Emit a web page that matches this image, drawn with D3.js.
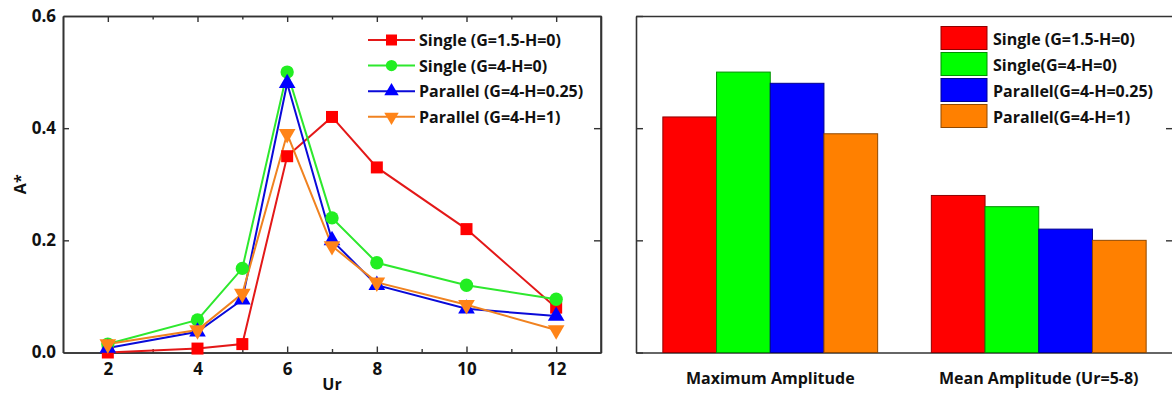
<!DOCTYPE html>
<html>
<head>
<meta charset="utf-8">
<script src="https://cdn.jsdelivr.net/npm/d3@7"></script>
<style>
  html, body { margin: 0; padding: 0; background: #fff; }
  svg { display: block; }
  text { font-family: "Open Sans", "Noto Sans", sans-serif; font-weight: bold; fill: #111; }
</style>
</head>
<body>
<svg id="chart" width="1172" height="394"></svg>
<script>
// ---------- data ----------
const ur = [2, 4, 5, 6, 7, 8, 10, 12];
const seriesNames = ["Single (G=1.5-H=0)", "Single (G=4-H=0)", "Parallel (G=4-H=0.25)", "Parallel (G=4-H=1)"];
const barLegendNames = ["Single (G=1.5-H=0)", "Single(G=4-H=0)", "Parallel(G=4-H=0.25)", "Parallel(G=4-H=1)"];
const singleG15 = [0.0, 0.007, 0.015, 0.35, 0.42, 0.33, 0.22, 0.08];
const singleG4 = [0.015, 0.058, 0.15, 0.50, 0.24, 0.16, 0.12, 0.095];
const parallelH025 = [0.008, 0.037, 0.094, 0.48, 0.20, 0.12, 0.078, 0.065];
const parallelH1 = [0.015, 0.04, 0.105, 0.39, 0.19, 0.125, 0.085, 0.04];
const barCategories = ["Maximum Amplitude", "Mean Amplitude (Ur=5-8)"];
const maxAmplitude = [0.42, 0.50, 0.48, 0.39];
const meanAmplitude = [0.28, 0.26, 0.22, 0.20];
const yTicks = [0.0, 0.2, 0.4, 0.6];
const xTicks = [2, 4, 6, 8, 10, 12];
const xMinorTicks = [3, 5, 7, 9, 11];

// ---------- styles ----------
const lineColors = ["#e31818", "#2ee82e", "#0a0ad8", "#f08220"];
const markColors = ["#ff0000", "#22ee22", "#0000ff", "#ff8418"];
const barColors = ["#ff0000", "#00ff00", "#0000ff", "#ff8000"];
const symbols = [d3.symbolSquare, d3.symbolCircle, d3.symbolTriangle, d3.symbolTriangle];
const symSizes = [144, 140, 120, 120];
const legSymSizes = [121, 100, 90, 90];
const symRot = [0, 0, 0, 180];
const lineSeries = [singleG15, singleG4, parallelH025, parallelH1];

const svg = d3.select("#chart");
const axisColor = "#333";

// ---------- left panel ----------
const L = {x0: 63, x1: 601, y0: 16, y1: 352.5};
const x = d3.scaleLinear().domain([1, 13]).range([L.x0, L.x1]);
const y = d3.scaleLinear().domain([0, 0.6]).range([L.y1, L.y0]);

const gl = svg.append("g");

function frameAxes(g, P, xs, showX) {
  const bottom = g.append("g").attr("transform", `translate(0,${P.y1})`);
  if (showX) {
    bottom.call(d3.axisBottom(xs).tickValues(xTicks).tickSizeInner(-6).tickSizeOuter(0).tickPadding(10).tickFormat(d3.format("d")));
    bottom.append("g").call(d3.axisBottom(xs).tickValues(xMinorTicks).tickSizeInner(-3.5).tickSizeOuter(0).tickFormat(""));
    const top = g.append("g").attr("transform", `translate(0,${P.y0})`);
    top.call(d3.axisTop(xs).tickValues(xTicks).tickSizeInner(-6).tickSizeOuter(0).tickFormat(""));
    top.append("g").call(d3.axisTop(xs).tickValues(xMinorTicks).tickSizeInner(-3.5).tickSizeOuter(0).tickFormat(""));
  } else {
    bottom.call(d3.axisBottom(xs).tickValues([]).tickSizeOuter(0));
    const top = g.append("g").attr("transform", `translate(0,${P.y0})`);
    top.call(d3.axisTop(xs).tickValues([]).tickSizeOuter(0));
  }
  const left = g.append("g").attr("transform", `translate(${P.x0},0)`);
  left.call(d3.axisLeft(y).tickValues(yTicks).tickSizeInner(showX ? 0 : -7).tickSizeOuter(0).tickPadding(7)
    .tickFormat(showX ? d3.format(".1f") : ""));
  if (showX) {
    left.append("g").call(d3.axisLeft(y).tickValues([0.2, 0.4]).tickSizeInner(-6).tickSizeOuter(0).tickFormat(""));
  }
  const right = g.append("g").attr("transform", `translate(${P.x1},0)`);
  right.call(d3.axisRight(y).tickValues([0.2, 0.4]).tickSizeInner(-7).tickSizeOuter(0).tickFormat(""));
  right.append("line").attr("y1", P.y0).attr("y2", P.y1).attr("stroke", axisColor).attr("stroke-width", 1.6);

  g.selectAll(".domain").attr("stroke", axisColor).attr("stroke-width", 1.6);
  g.selectAll(".tick line").attr("stroke", axisColor).attr("stroke-width", 1.4);
  g.selectAll(".tick text").attr("font-size", 17).attr("font-weight", "bold").attr("fill", "#111")
    .attr("font-family", '"Open Sans", sans-serif');
}

frameAxes(gl, L, x, true);

// lines
const lineGen = d3.line().x((d, i) => x(ur[i])).y(d => y(d));
lineSeries.forEach((s, k) => {
  gl.append("path").datum(s).attr("d", lineGen).attr("fill", "none")
    .attr("stroke", lineColors[k]).attr("stroke-width", 2);
});
lineSeries.forEach((s, k) => {
  gl.selectAll(null).data(s).enter().append("path")
    .attr("d", d3.symbol().type(symbols[k]).size(symSizes[k]))
    .attr("transform", (d, i) => `translate(${x(ur[i])},${y(d)}) rotate(${symRot[k]})`)
    .attr("fill", markColors[k]);
});

// axis titles
gl.append("text").attr("x", (L.x0 + L.x1) / 2).attr("y", 383.5).attr("text-anchor", "middle")
  .attr("dominant-baseline", "central").attr("font-size", 16).text("Ur");
gl.append("text").attr("transform", `translate(20,${(L.y0 + L.y1) / 2}) rotate(-90)`).attr("text-anchor", "middle")
  .attr("dominant-baseline", "central").attr("font-size", 16).text("A*");

// left legend
const legL = gl.append("g");
seriesNames.forEach((name, k) => {
  const yy = 40 + k * 25.6;
  legL.append("line").attr("x1", 368).attr("x2", 415).attr("y1", yy).attr("y2", yy)
    .attr("stroke", lineColors[k]).attr("stroke-width", 2);
  legL.append("path").attr("d", d3.symbol().type(symbols[k]).size(legSymSizes[k]))
    .attr("transform", `translate(391.5,${yy}) rotate(${symRot[k]})`).attr("fill", markColors[k]);
  legL.append("text").attr("x", 419).attr("y", yy).attr("dominant-baseline", "central")
    .attr("font-size", 16).text(name);
});

// ---------- right panel ----------
const R = {x0: 636, x1: 1173, y0: 16, y1: 352.5};
const gr = svg.append("g");
const xb = d3.scaleBand().domain(barCategories).range([R.x0, R.x1]).paddingInner(0.2).paddingOuter(0.1);
const xs = d3.scaleBand().domain(d3.range(4)).range([0, xb.bandwidth()]);
const barData = [maxAmplitude, meanAmplitude];

frameAxes(gr, R, xb, false);

barCategories.forEach((cat, c) => {
  gr.selectAll(null).data(barData[c]).enter().append("rect")
    .attr("x", (d, i) => xb(cat) + xs(i))
    .attr("width", xs.bandwidth())
    .attr("y", d => y(d))
    .attr("height", d => y(0) - y(d))
    .attr("fill", (d, i) => barColors[i])
    .attr("stroke", (d, i) => d3.color(barColors[i]).darker(1.6))
    .attr("stroke-width", 1);
  gr.append("text").attr("x", xb(cat) + xb.bandwidth() / 2).attr("y", 378)
    .attr("text-anchor", "middle").attr("dominant-baseline", "central").attr("font-size", 16).text(cat);
});

// right legend
const legR = gr.append("g");
barLegendNames.forEach((name, k) => {
  const top = 26.5 + k * 26;
  legR.append("rect").attr("x", 941).attr("y", top).attr("width", 46).attr("height", 23)
    .attr("fill", barColors[k]).attr("stroke", d3.color(barColors[k]).darker(1.6)).attr("stroke-width", 1);
  legR.append("text").attr("x", 993).attr("y", top + 12).attr("dominant-baseline", "central")
    .attr("font-size", 16).text(name);
});
</script>
</body>
</html>
